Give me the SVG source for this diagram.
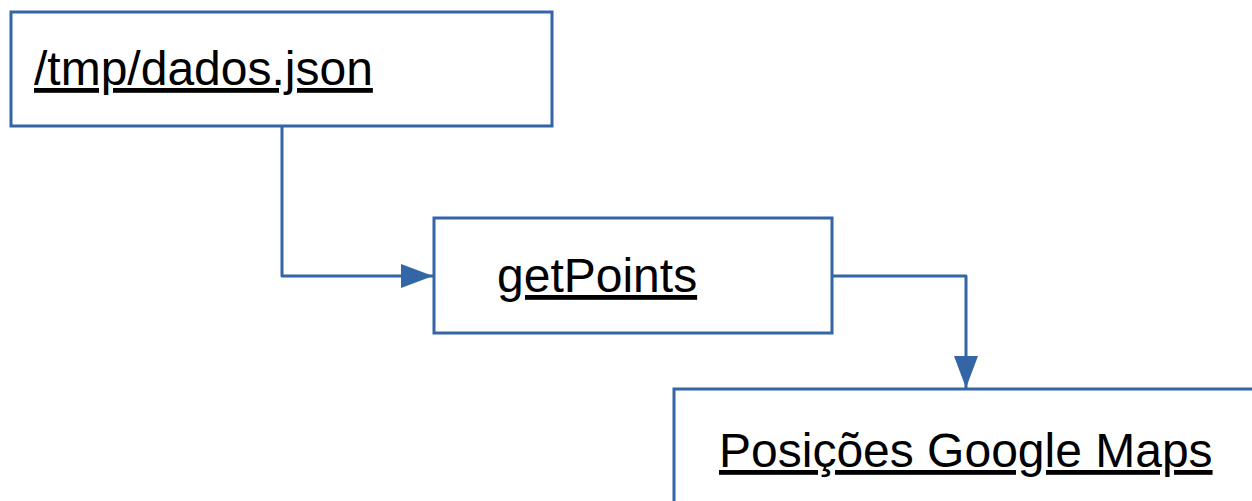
<svg xmlns="http://www.w3.org/2000/svg" width="1252" height="501" viewBox="0 0 1252 501">
  <style>
    .box { fill: #ffffff; stroke: #3465a4; stroke-width: 3; }
    .lbl { font-family: "Liberation Sans", Arial, sans-serif; font-size: 48px; fill: #000000; text-decoration: underline; }
    .wire { fill: none; stroke: #3465a4; stroke-width: 3; stroke-linejoin: round; }
  </style>
  <defs>
    <marker id="arrow" viewBox="0 0 32 24" refX="32" refY="12" markerWidth="32" markerHeight="24" markerUnits="userSpaceOnUse" orient="auto">
      <path d="M0,0 L32,12 L0,24 Z" fill="#3465a4"/>
    </marker>
  </defs>

  <g id="connectors">
    <path class="wire" d="M282,126 V276 H433" marker-end="url(#arrow)"/>
    <path class="wire" d="M832,276 H966 V388" marker-end="url(#arrow)"/>
  </g>

  <g id="node-dados">
    <rect class="box" x="11" y="12" width="541" height="114"/>
    <text class="lbl" x="34" y="85">/tmp/dados.json</text>
  </g>

  <g id="node-getpoints">
    <rect class="box" x="434" y="218" width="398" height="115"/>
    <text class="lbl" x="497" y="292">getPoints</text>
  </g>

  <g id="node-posicoes">
    <rect class="box" x="674" y="389" width="600" height="140"/>
    <text class="lbl" x="719" y="467">Posições Google Maps</text>
  </g>
</svg>
